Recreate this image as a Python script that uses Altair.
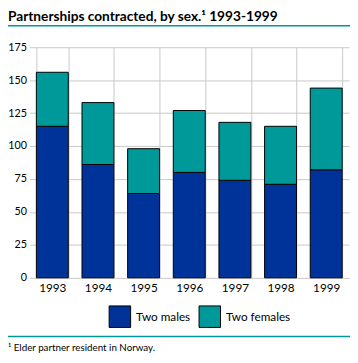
import altair as alt
import pandas as pd

years = ["1993", "1994", "1995", "1996", "1997", "1998", "1999"]
males = [115, 86, 64, 80, 74, 71, 82]
females = [41, 47, 34, 47, 44, 44, 62]
series = ["Two males", "Two females"]
colors = ["#003399", "#009999"]
y_ticks = [0, 25, 50, 75, 100, 125, 150, 175]
title_text = "Partnerships contracted, by sex.\u00b9  1993-1999"
footnote_text = "\u00b9 Elder partner resident in Norway."

rows = []
for i, yr in enumerate(years):
    rows.append({"year": yr, "sex": series[0], "value": males[i], "ord": 0})
    rows.append({"year": yr, "sex": series[1], "value": females[i], "ord": 1})
df = pd.DataFrame(rows)

FONT = "Lato"
LEFT = 22

bars = alt.Chart(df).mark_bar(stroke="black", strokeWidth=1).encode(
    x=alt.X("year:N", sort=years,
            scale=alt.Scale(paddingInner=0.3, paddingOuter=0.15),
            axis=alt.Axis(title=None, labelAngle=0, domain=False, ticks=False,
                          grid=True, tickBand="extent", gridColor="#c8c8c8",
                          labelFontSize=12, labelColor="black", labelFont=FONT,
                          labelPadding=5)),
    y=alt.Y("value:Q", stack="zero",
            scale=alt.Scale(domain=[0, 175], nice=False),
            axis=alt.Axis(title=None, values=y_ticks, domain=False, ticks=False,
                          gridColor="#c8c8c8", labelFontSize=11, labelColor="black",
                          labelFont=FONT, labelPadding=3)),
    color=alt.Color("sex:N", sort=series,
                    scale=alt.Scale(domain=series, range=colors),
                    legend=alt.Legend(title=None, orient="none", legendX=103 - LEFT, legendY=264,
                                      direction="horizontal", symbolType="square",
                                      symbolSize=484, symbolStrokeColor="black",
                                      symbolStrokeWidth=1, symbolOpacity=1,
                                      labelFontSize=12, labelFont=FONT,
                                      labelColor="black", labelOffset=5,
                                      columnPadding=6)),
    order=alt.Order("ord:Q"),
)

one = pd.DataFrame({"a": [0]})

title = alt.Chart(one).mark_text(
    align="left", baseline="alphabetic", fontSize=14, fontWeight="bold",
    font=FONT, color="black"
).encode(x=alt.value(-LEFT), y=alt.value(-27), text=alt.value(title_text))

top_line = alt.Chart(one).mark_rule(color="#009999", strokeWidth=1.5).encode(
    x=alt.value(-LEFT), x2=alt.value(350 - LEFT), y=alt.value(-22))

bottom_line = alt.Chart(one).mark_rule(color="#009999", strokeWidth=1.5).encode(
    x=alt.value(-LEFT), x2=alt.value(350 - LEFT), y=alt.value(296))

footnote = alt.Chart(one).mark_text(
    align="left", baseline="alphabetic", fontSize=10, font=FONT, color="black"
).encode(x=alt.value(-LEFT), y=alt.value(311), text=alt.value(footnote_text))

chart = alt.layer(bars, title, top_line, bottom_line, footnote).properties(
    width=350 - LEFT - 1, height=236,
    autosize=alt.AutoSizeParams(type="none"),
    padding={"left": LEFT, "top": 36, "right": 1, "bottom": 83},
).configure_view(stroke="transparent")

chart.save("out.html", embed_options={"renderer": "svg", "actions": False})
